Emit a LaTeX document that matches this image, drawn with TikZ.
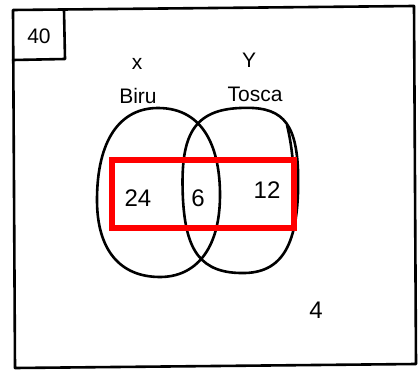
\documentclass[tikz,border=0pt]{standalone}
\usepackage{fontspec}
\setmainfont{Liberation Sans}
\begin{document}
\begin{tikzpicture}[x=1pt,y=-1pt,
  ink/.style={line width=2.6pt,black,line join=round,line cap=round},
  lbl/.style={font=\fontsize{21}{22}\selectfont,inner sep=0pt},
  num/.style={font=\fontsize{24}{26}\selectfont,inner sep=0pt}]
\useasboundingbox (0,0) rectangle (420,374);
% universal set
\draw[ink] (13,10) -- (414,6) -- (416,364) -- (15,368) -- cycle;
\draw[ink] (13,60) -- (65,59) -- (64,10);
\node[lbl] (n) at (39,36) {40};
% sets
\draw[ink] (158,108) .. controls (205,108) and (220,150) .. (220,195)
  .. controls (220,250) and (195,277) .. (160,277)
  .. controls (120,277) and (97,250) .. (97,200)
  .. controls (97,140) and (120,108) .. (158,108);
\draw[ink] (183,200) .. controls (180,140) and (190,110) .. (240,108)
  .. controls (280,106) and (296,120) .. (298,170)
  .. controls (300,240) and (285,272) .. (245,273)
  .. controls (200,274) and (186,250) .. (183,200);
\draw[ink] (287,125) .. controls (293,150) and (295,175) .. (293,215);
\node[lbl] (x) at (137,64) {x};
\node[lbl] (biru) at (138,96) {Biru};
\node[lbl] (y) at (249,60) {Y};
\node[lbl] (tosca) at (255,94) {Tosca};
% values
\node[num] (a) at (138,198) {24};
\node[num] (b) at (198,198) {6};
\node[num] (c) at (267,190) {12};
\node[num] (d) at (316,310) {4};
% highlight
\draw[red,line width=6.5pt] (112,160) rectangle (294,228);
\end{tikzpicture}
\end{document}
